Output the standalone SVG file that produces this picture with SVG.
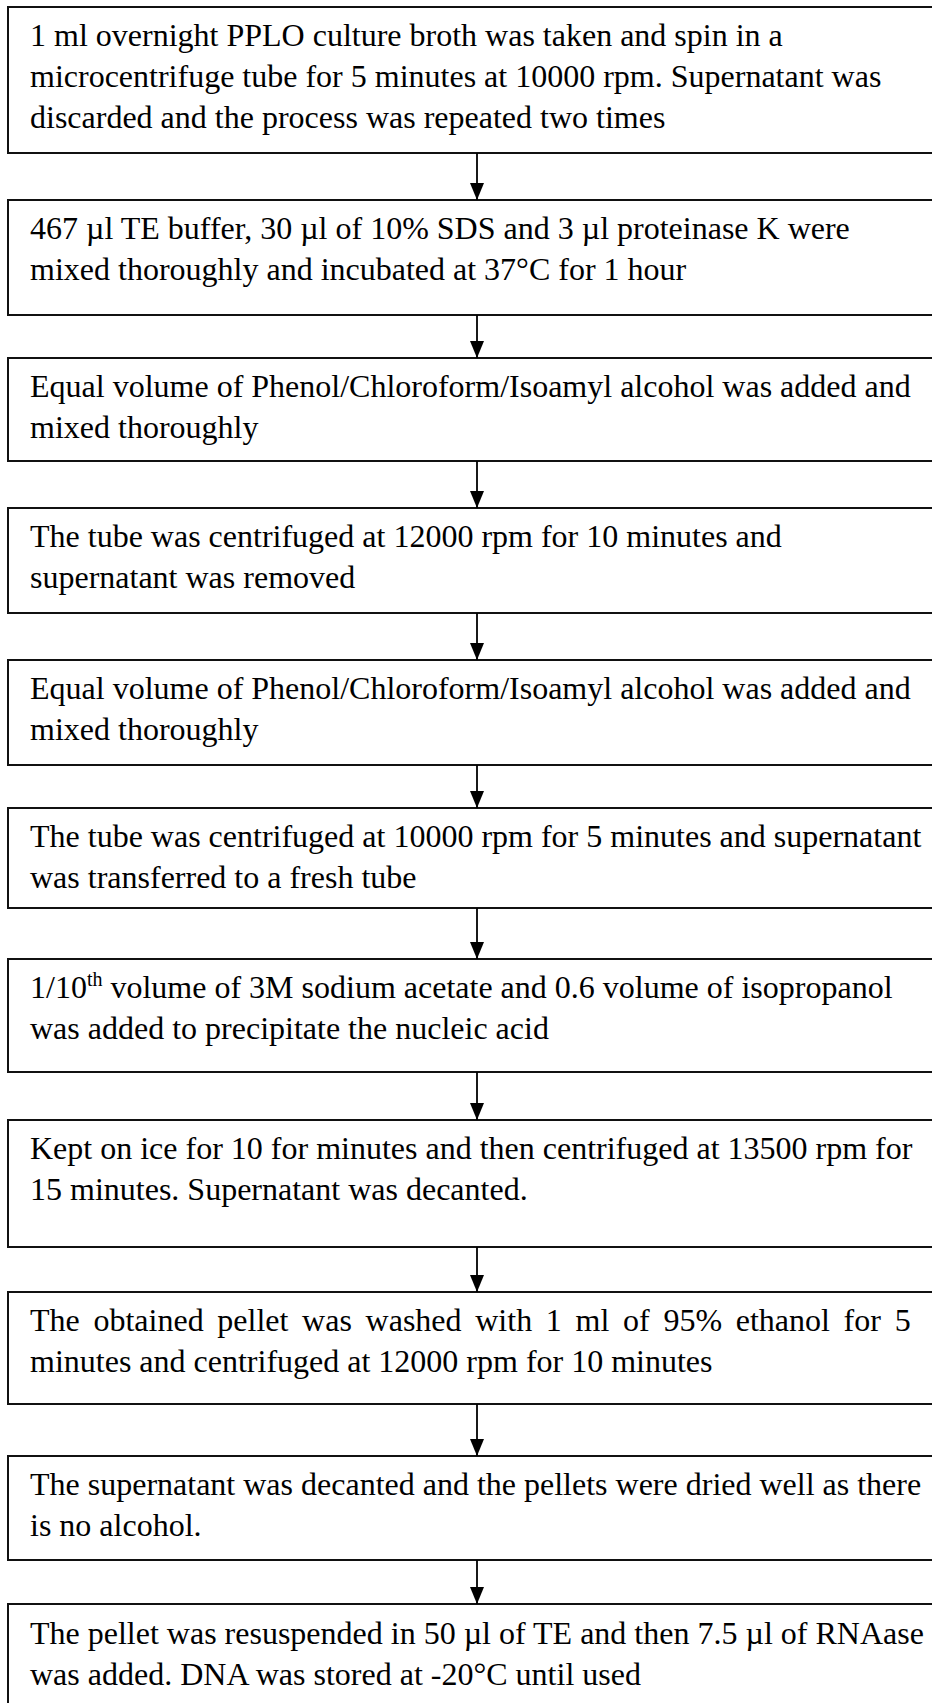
<svg xmlns="http://www.w3.org/2000/svg" width="932" height="1703" viewBox="0 0 932 1703">
<style>
.box{fill:#fff;stroke:#111;stroke-width:2}
.t{font-family:"Liberation Serif","Times New Roman",serif;font-size:32px;fill:#000}
.c{stroke:#000;stroke-width:1.8;fill:none}
</style>
<defs>
<marker id="ah" viewBox="0 0 17 14" refX="17" refY="7" markerWidth="17" markerHeight="14" markerUnits="userSpaceOnUse" orient="auto">
<path d="M0,0 L17,7 L0,14 z" fill="#000"/>
</marker>
</defs>
<rect width="932" height="1703" fill="#fff"/>
<g id="n1"><rect class="box" x="8" y="7" width="930" height="146"/>
<text class="t" x="30" y="46">1 ml overnight PPLO culture broth was taken and spin in a</text>
<text class="t" x="30" y="87">microcentrifuge tube for 5 minutes at 10000 rpm. Supernatant was</text>
<text class="t" x="30" y="128">discarded and the process was repeated two times</text></g>
<g id="n2"><rect class="box" x="8" y="200" width="930" height="115"/>
<text class="t" x="30" y="239">467 µl TE buffer, 30 µl of 10% SDS and 3 µl proteinase K were</text>
<text class="t" x="30" y="280">mixed thoroughly and incubated at 37°C for 1 hour</text></g>
<g id="n3"><rect class="box" x="8" y="358" width="930" height="103"/>
<text class="t" x="30" y="397">Equal volume of Phenol/Chloroform/Isoamyl alcohol was added and</text>
<text class="t" x="30" y="438">mixed thoroughly</text></g>
<g id="n4"><rect class="box" x="8" y="508" width="930" height="105"/>
<text class="t" x="30" y="547">The tube was centrifuged at 12000 rpm for 10 minutes and</text>
<text class="t" x="30" y="588">supernatant was removed</text></g>
<g id="n5"><rect class="box" x="8" y="660" width="930" height="105"/>
<text class="t" x="30" y="699">Equal volume of Phenol/Chloroform/Isoamyl alcohol was added and</text>
<text class="t" x="30" y="740">mixed thoroughly</text></g>
<g id="n6"><rect class="box" x="8" y="808" width="930" height="100"/>
<text class="t" x="30" y="847">The tube was centrifuged at 10000 rpm for 5 minutes and supernatant</text>
<text class="t" x="30" y="888">was transferred to a fresh tube</text></g>
<g id="n7"><rect class="box" x="8" y="959" width="930" height="113"/>
<text class="t" x="30" y="998">1/10<tspan font-size="20" dy="-12">th</tspan><tspan dy="12"> volume of 3M sodium acetate and 0.6 volume of isopropanol</tspan></text>
<text class="t" x="30" y="1039">was added to precipitate the nucleic acid</text></g>
<g id="n8"><rect class="box" x="8" y="1120" width="930" height="127"/>
<text class="t" x="30" y="1159">Kept on ice for 10 for minutes and then centrifuged at 13500 rpm for</text>
<text class="t" x="30" y="1200">15 minutes. Supernatant was decanted.</text></g>
<g id="n9"><rect class="box" x="8" y="1292" width="930" height="112"/>
<text class="t" x="30" y="1331" word-spacing="5.7">The obtained pellet was washed with 1 ml of 95% ethanol for 5</text>
<text class="t" x="30" y="1372">minutes and centrifuged at 12000 rpm for 10 minutes</text></g>
<g id="n10"><rect class="box" x="8" y="1456" width="930" height="104"/>
<text class="t" x="30" y="1495">The supernatant was decanted and the pellets were dried well as there</text>
<text class="t" x="30" y="1536">is no alcohol.</text></g>
<g id="n11"><rect class="box" x="8" y="1604" width="930" height="120"/>
<text class="t" x="30" y="1644">The pellet was resuspended in 50 µl of TE and then 7.5 µl of RNAase</text>
<text class="t" x="30" y="1685">was added. DNA was stored at -20°C until used</text></g>
<g id="connectors">
<line class="c" x1="477" y1="153" x2="477" y2="200" marker-end="url(#ah)"/>
<line class="c" x1="477" y1="315" x2="477" y2="358" marker-end="url(#ah)"/>
<line class="c" x1="477" y1="461" x2="477" y2="508" marker-end="url(#ah)"/>
<line class="c" x1="477" y1="613" x2="477" y2="660" marker-end="url(#ah)"/>
<line class="c" x1="477" y1="765" x2="477" y2="808" marker-end="url(#ah)"/>
<line class="c" x1="477" y1="908" x2="477" y2="959" marker-end="url(#ah)"/>
<line class="c" x1="477" y1="1072" x2="477" y2="1120" marker-end="url(#ah)"/>
<line class="c" x1="477" y1="1247" x2="477" y2="1292" marker-end="url(#ah)"/>
<line class="c" x1="477" y1="1404" x2="477" y2="1456" marker-end="url(#ah)"/>
<line class="c" x1="477" y1="1560" x2="477" y2="1604" marker-end="url(#ah)"/>
</g>
</svg>
